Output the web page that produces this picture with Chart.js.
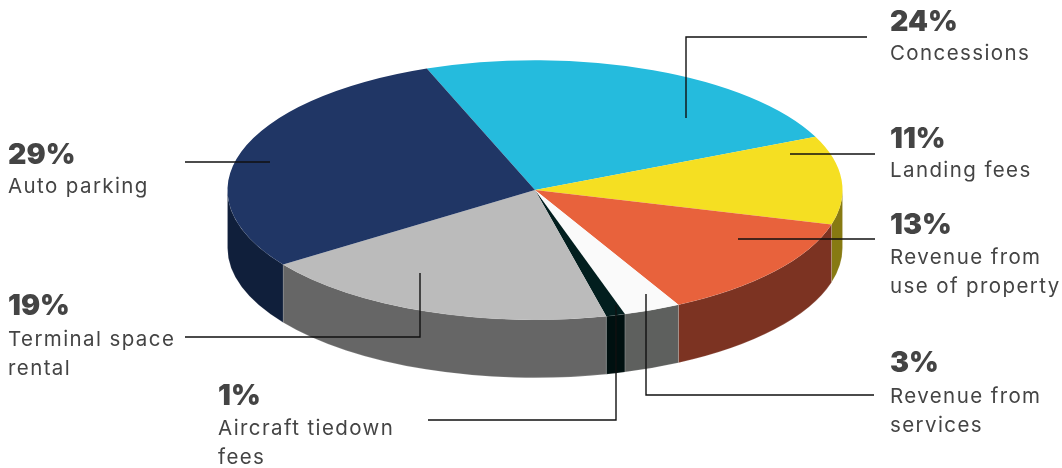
<!DOCTYPE html>
<html>
<head>
<meta charset="utf-8">
<title>Revenue sources</title>
<script src="https://cdn.jsdelivr.net/npm/chart.js@4"></script>
<style>
  html, body { margin: 0; padding: 0; background: #fff; }
  #wrap { width: 1062px; height: 468px; }
</style>
</head>
<body>
<div id="wrap"><canvas id="chart-pie" width="1062" height="468"></canvas></div>
<script>
const CATEGORIES = [
  ['Concessions'],
  ['Landing fees'],
  ['Revenue from', 'use of property'],
  ['Revenue from', 'services'],
  ['Aircraft tiedown', 'fees'],
  ['Terminal space', 'rental'],
  ['Auto parking'],
];
const SHARES = [24, 11, 13, 3, 1, 19, 29];
const TOP_COLORS = ['#25bbdd', '#f5df22', '#e8623c', '#fafafa', '#021e1e', '#bbbbbb', '#203665'];
const WALL_COLORS = ['#1a8aa3', '#877a12', '#7c3322', '#5e605e', '#001010', '#666666', '#101f3b'];

// Text anchor (x, baseline of the percentage), gap down to the label, leader line
const CALLOUTS = [
  { x: 890, y: 31,  gap: 28.5, leader: [[867, 37], [686, 37], [686, 118]] },
  { x: 890, y: 148, gap: 28.5, leader: [[875, 154], [790, 154]] },
  { x: 890, y: 234, gap: 29.5, leader: [[875, 239], [738, 239]] },
  { x: 890, y: 372, gap: 30.5, leader: [[874, 395], [646, 395], [646, 294]] },
  { x: 218, y: 405, gap: 29.5, leader: [[428, 420], [616, 420], [616, 305]] },
  { x: 8,   y: 315, gap: 30.5, leader: [[185, 337], [420, 337], [420, 273]] },
  { x: 8,   y: 164, gap: 28.5, leader: [[185, 162], [270, 162]] },
];

const TILT = 0.422;     // vertical squash of the disc
const DEPTH = 58;       // height of the side wall in px
const RADIUS = 307.5;
const ROTATION = -20.6;

const FONT_PCT = "900 28.5px Inter, sans-serif";
const FONT_LABEL = "400 20.5px Inter, sans-serif";
const TEXT_COLOR = '#444444';

/* -------------------------------------------------- */
/* Tilted disc: walls first, then the arcs squashed    */
/* -------------------------------------------------- */

const tiltPlugin = {
  id: 'tilt',
  beforeDatasetsDraw(chart) {
    const arcs = chart.getDatasetMeta(0).data;
    const ctx = chart.ctx;
    const cx = arcs[0].x;
    const cy = arcs[0].y;
    const rx = arcs[0].outerRadius;
    const ry = rx * TILT;

    arcs.forEach((arc, i) => {
      for (let k = -1; k <= 1; k++) {
        // only the part of the rim facing the viewer (0..PI) has a wall
        const a0 = Math.max(arc.startAngle, k * 2 * Math.PI);
        const a1 = Math.min(arc.endAngle, k * 2 * Math.PI + Math.PI);
        if (a1 <= a0) continue;
        ctx.beginPath();
        ctx.ellipse(cx, cy + DEPTH, rx, ry, 0, a0, a1);
        ctx.ellipse(cx, cy, rx, ry, 0, a1, a0, true);
        ctx.closePath();
        ctx.fillStyle = WALL_COLORS[i];
        ctx.fill();
        // faint pale seam between wall panels
        ctx.strokeStyle = 'rgba(255,255,255,0.25)';
        ctx.lineWidth = 0.6;
        ctx.stroke();
      }
    });

    ctx.save();
    ctx.translate(cx, cy);
    ctx.scale(1, TILT);
    ctx.translate(-cx, -cy);
  },
  afterDatasetsDraw(chart) {
    chart.ctx.restore();
  },
  afterDraw(chart) {
    const ctx = chart.ctx;
    ctx.save();

    ctx.strokeStyle = '#111111';
    ctx.lineWidth = 1.4;
    CALLOUTS.forEach(c => {
      ctx.beginPath();
      c.leader.forEach(([x, y], i) => (i ? ctx.lineTo(x, y) : ctx.moveTo(x, y)));
      ctx.stroke();
    });

    ctx.fillStyle = TEXT_COLOR;
    ctx.textAlign = 'left';
    ctx.textBaseline = 'alphabetic';
    CALLOUTS.forEach((c, i) => {
      ctx.font = FONT_PCT;
      ctx.letterSpacing = '0px';
      ctx.fillText(SHARES[i] + '%', c.x, c.y);
      ctx.font = FONT_LABEL;
      ctx.letterSpacing = '1.4px';
      CATEGORIES[i].forEach((line, j) => {
        ctx.fillText(line, c.x, c.y + c.gap + j * 29);
      });
    });
    ctx.restore();
  },
};

new Chart(document.getElementById('chart-pie'), {
  type: 'pie',
  data: {
    labels: CATEGORIES.map(l => l.join(' ')),
    datasets: [{
      data: SHARES,
      backgroundColor: TOP_COLORS,
      borderWidth: 0,
      clip: false,
    }],
  },
  options: {
    responsive: false,
    animation: false,
    rotation: ROTATION,
    radius: RADIUS,
    layout: { padding: { left: 8, bottom: 88 } },
    plugins: {
      legend: { display: false },
      tooltip: { enabled: false },
    },
  },
  plugins: [tiltPlugin],
});
</script>
</body>
</html>
